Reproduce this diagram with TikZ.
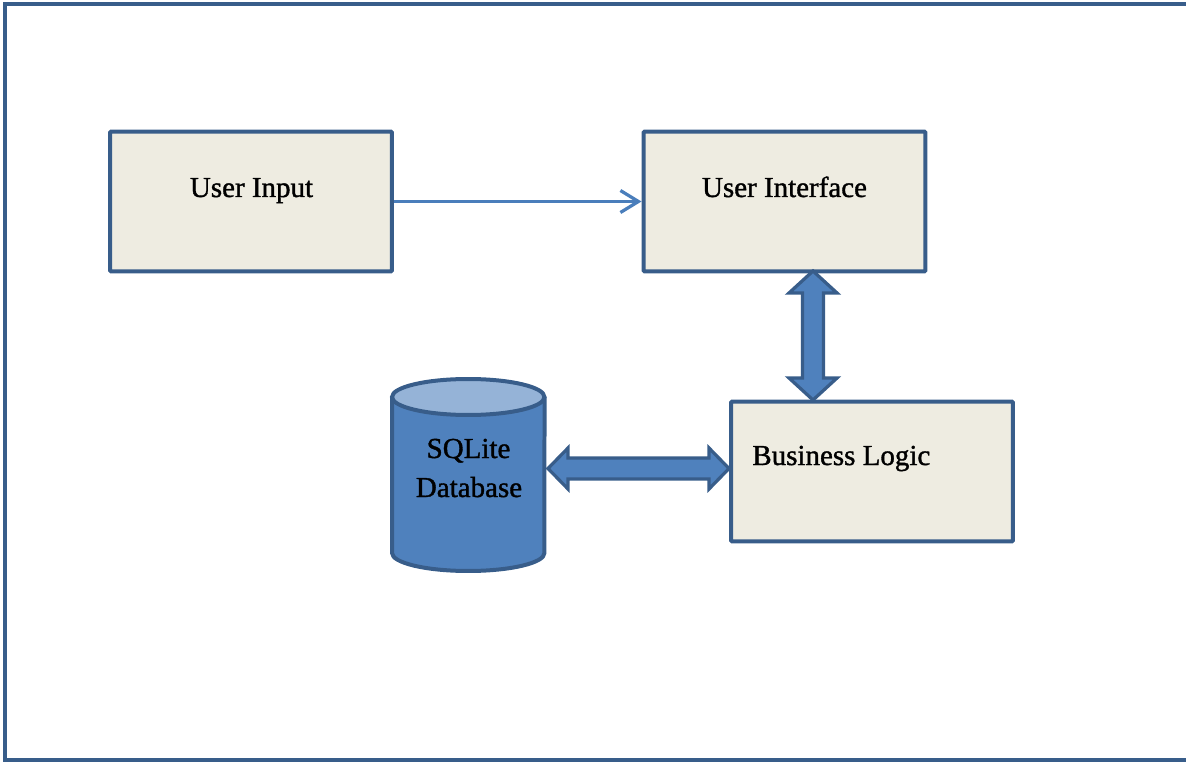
\documentclass[tikz,border=0pt]{standalone}
\usepackage{fontspec}
\setmainfont{Liberation Serif}
\newfontfamily\labelfont[FakeBold=1.2]{Liberation Serif}
\usetikzlibrary{arrows.meta}
\definecolor{edge}{HTML}{385D8A}
\definecolor{boxfill}{HTML}{EEECE1}
\definecolor{blockfill}{HTML}{4F81BD}
\definecolor{topfill}{HTML}{95B3D7}
\definecolor{flowcol}{HTML}{4A7EBB}
\begin{document}
\begin{tikzpicture}[x=0.02cm, y=-0.02cm,
  box/.style={draw=edge, fill=boxfill, line width=0.08cm, rounded corners=0.6pt,
    minimum width=5.64cm, minimum height=2.8cm, inner sep=0pt},
  lbl/.style={font=\labelfont\fontsize{16.5}{20}\selectfont, text=black, inner sep=0pt, anchor=base},
  blockarrow/.style={draw=edge, fill=blockfill, line width=0.065cm, line join=miter},
  flow/.style={draw=flowcol, line width=0.065cm,
    -{Straight Barb[length=0.36cm, width=0.44cm]}},
  frameline/.style={draw=edge, line width=0.09cm}
]
\useasboundingbox (0,0) rectangle (1186,763);

% page frame (open on the right)
\draw[frameline] (1186,4) -- (5,4) -- (5,760) -- (1186,760);

% component boxes
\node[box] (in) at (251,201.5) {};
\node[box] (ui) at (784.5,201.5) {};
\node[box] (bl) at (872,471.5) {};

% database cylinder
\path[fill=blockfill] (392,397) -- (392,553)
  arc[start angle=180, end angle=360, x radius=1.525cm, y radius=0.36cm]
  -- (544.5,397)
  arc[start angle=0, end angle=180, x radius=1.525cm, y radius=0.36cm] -- cycle;
\draw[edge, line width=0.08cm] (392,397) -- (392,553)
  arc[start angle=180, end angle=360, x radius=1.525cm, y radius=0.36cm]
  -- (544.5,397);
\draw[edge, line width=0.08cm, fill=topfill] (468.25,397)
  ellipse [x radius=1.525cm, y radius=0.36cm];
\node[inner sep=0pt, minimum width=3.05cm, minimum height=3.86cm] (db) at (468.25,475) {};

% labels
\node[lbl] (tin) at (251.5,197) {User Input};
\node[lbl] (tui) at (784.5,197) {User Interface};
\node[lbl, anchor=base west] (tbl) at (752,465) {Business Logic};
\node[lbl] (tdb1) at (468.5,458) {SQLite};
\node[lbl] (tdb2) at (469,497) {Database};

% input flows into the interface
\draw[flow] (in.east) -- (ui.west);

% interface <-> business logic
\coordinate (uiport) at (813,271);
\coordinate (blport) at (813,400);
\draw[blockarrow] (uiport) -- ++(24,22) -- ++(-13.5,0) -- ++(0,85) -- ++(13.5,0)
  -- (blport) -- ++(-24,-22) -- ++(13.5,0) -- ++(0,-85) -- ++(-13.5,0) -- cycle;

% database <-> business logic
\coordinate (dbport) at (548,468.5);
\coordinate (blwest) at (729,468.5);
\draw[blockarrow] (dbport) -- ++(20,-20.5) -- ++(0,10) -- ++(141,0) -- ++(0,-10)
  -- (blwest) -- ++(-20,20.5) -- ++(0,-10) -- ++(-141,0) -- ++(0,10) -- cycle;
\end{tikzpicture}
\end{document}
